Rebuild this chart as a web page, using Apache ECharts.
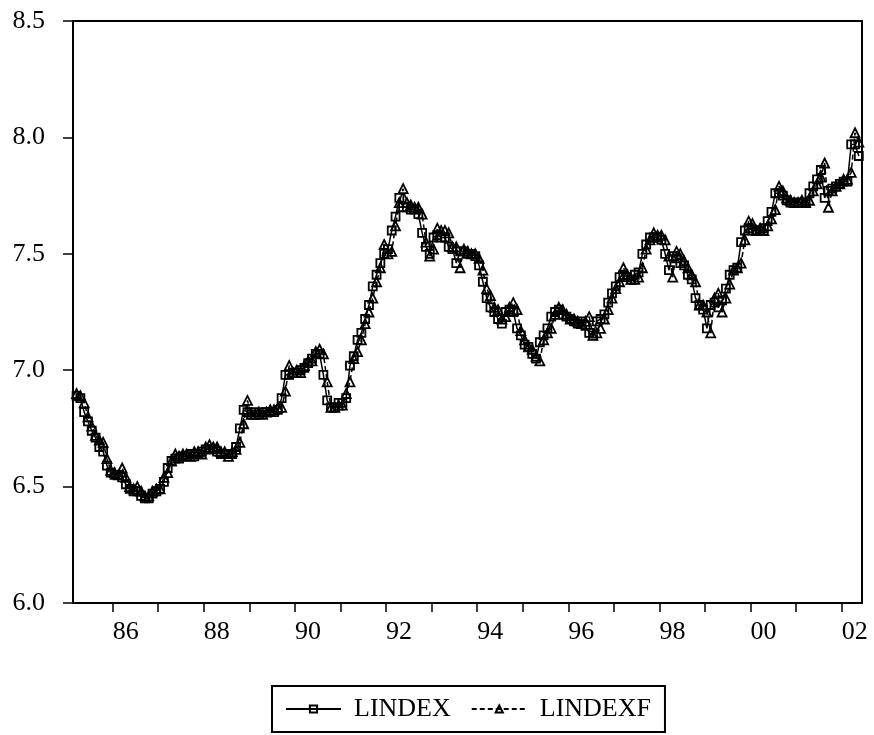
<!DOCTYPE html>
<html>
<head>
<meta charset="utf-8">
<title>LINDEX vs LINDEXF</title>
<script src="https://cdn.jsdelivr.net/npm/echarts@6/dist/echarts.min.js"></script>
<style>
  html, body { margin: 0; padding: 0; background: #fff; }
  #main { width: 874px; height: 735px; }
</style>
</head>
<body>
<div id="main"></div>
<script type="text/javascript">
// monthly observations, 1985M03 .. 2002M05
var startYear = 1985, startMonth = 3;

var lindex = [
  6.89, 6.88, 6.82, 6.78, 6.74, 6.71, 6.67, 6.65, 6.59, 6.56,
  6.55, 6.55, 6.54, 6.51, 6.49, 6.48, 6.48, 6.46, 6.45, 6.45, 6.47, 6.48,
  6.49, 6.52, 6.58, 6.61, 6.62, 6.62, 6.63, 6.63, 6.64, 6.63, 6.64, 6.65,
  6.66, 6.66, 6.66, 6.65, 6.64, 6.64, 6.64, 6.64, 6.67, 6.75, 6.83, 6.82,
  6.81, 6.82, 6.81, 6.82, 6.82, 6.82, 6.82, 6.83, 6.88, 6.98, 6.98, 6.99,
  6.99, 7.00, 7.01, 7.03, 7.05, 7.07, 7.07, 6.98, 6.87, 6.84, 6.84, 6.86,
  6.86, 6.88, 7.02, 7.06, 7.13, 7.16, 7.22, 7.28, 7.36, 7.41, 7.46, 7.50,
  7.52, 7.60, 7.66, 7.74, 7.70, 7.70, 7.69, 7.69, 7.67, 7.59, 7.53, 7.50,
  7.57, 7.58, 7.57, 7.57, 7.53, 7.52, 7.46, 7.51, 7.51, 7.50, 7.50, 7.49,
  7.45, 7.38, 7.31, 7.27, 7.25, 7.22, 7.20, 7.25, 7.26, 7.25, 7.18, 7.15,
  7.11, 7.10, 7.07, 7.05, 7.12, 7.15, 7.18, 7.23, 7.25, 7.26, 7.24, 7.23,
  7.22, 7.21, 7.20, 7.21, 7.19, 7.16, 7.15, 7.21, 7.22, 7.24, 7.29, 7.33,
  7.36, 7.40, 7.41, 7.40, 7.39, 7.41, 7.42, 7.50, 7.54, 7.57, 7.57, 7.57,
  7.56, 7.50, 7.43, 7.49, 7.48, 7.46, 7.45, 7.41, 7.39, 7.31, 7.28, 7.26,
  7.18, 7.28, 7.29, 7.27, 7.30, 7.35, 7.41, 7.43, 7.44, 7.55, 7.60, 7.61,
  7.60, 7.60, 7.60, 7.61, 7.64, 7.68, 7.76, 7.76, 7.75, 7.73, 7.72, 7.72,
  7.72, 7.72, 7.72, 7.76, 7.79, 7.82, 7.86, 7.74, 7.77, 7.78, 7.79, 7.80,
  7.81, 7.81, 7.97, 7.97, 7.92
];

var lindexf = [
  6.90, 6.89, 6.86, 6.80, 6.76, 6.72, 6.70, 6.69, 6.62, 6.57,
  6.56, 6.55, 6.58, 6.54, 6.50, 6.49, 6.50, 6.48, 6.46, 6.46, 6.48, 6.49,
  6.49, 6.54, 6.56, 6.61, 6.64, 6.63, 6.64, 6.64, 6.63, 6.65, 6.65, 6.64,
  6.67, 6.68, 6.67, 6.67, 6.65, 6.65, 6.63, 6.65, 6.66, 6.69, 6.77, 6.87,
  6.81, 6.81, 6.82, 6.81, 6.82, 6.83, 6.83, 6.84, 6.84, 6.91, 7.02, 6.99,
  7.00, 6.99, 7.02, 7.04, 7.04, 7.08, 7.09, 7.07, 6.95, 6.84, 6.84, 6.85,
  6.85, 6.90, 6.95, 7.05, 7.08, 7.13, 7.20, 7.25, 7.31, 7.38, 7.44, 7.54,
  7.50, 7.51, 7.62, 7.72, 7.78, 7.72, 7.71, 7.70, 7.70, 7.67, 7.55, 7.49,
  7.52, 7.61, 7.60, 7.60, 7.59, 7.53, 7.53, 7.44, 7.52, 7.51, 7.50, 7.50,
  7.48, 7.43, 7.35, 7.32, 7.27, 7.26, 7.22, 7.23, 7.27, 7.29, 7.26, 7.17,
  7.13, 7.10, 7.09, 7.06, 7.04, 7.13, 7.16, 7.18, 7.24, 7.27, 7.26, 7.24,
  7.22, 7.22, 7.21, 7.20, 7.21, 7.23, 7.15, 7.16, 7.18, 7.22, 7.26, 7.31,
  7.35, 7.38, 7.44, 7.41, 7.39, 7.39, 7.40, 7.44, 7.52, 7.56, 7.59, 7.58,
  7.58, 7.56, 7.49, 7.40, 7.51, 7.50, 7.47, 7.44, 7.41, 7.38, 7.28, 7.28,
  7.25, 7.16, 7.31, 7.33, 7.25, 7.31, 7.37, 7.43, 7.44, 7.46, 7.56, 7.64,
  7.63, 7.60, 7.61, 7.60, 7.62, 7.65, 7.69, 7.79, 7.77, 7.74, 7.73, 7.72,
  7.72, 7.73, 7.72, 7.73, 7.77, 7.80, 7.83, 7.89, 7.70, 7.77, 7.79, 7.80,
  7.82, 7.82, 7.85, 8.02, 7.98
];

var yearTicks = [1986, 1987, 1988, 1989, 1990, 1991, 1992, 1993, 1994,
                 1995, 1996, 1997, 1998, 1999, 2000, 2001, 2002];
var yearLabels = [1986, 1988, 1990, 1992, 1994, 1996, 1998, 2000, 2002];

// each observation sits in the middle of its month on a decimal-year axis
function toPairs(values) {
    return values.map(function (v, i) {
        var k = startMonth - 1 + i;
        return [startYear + (k + 0.5) / 12, v];
    });
}

var font = '"Liberation Serif", "Times New Roman", serif';

var myChart = echarts.init(document.getElementById('main'));
var option = {
    animation: false,
    backgroundColor: '#fff',
    grid: {
        left: 73, top: 21, right: 12, bottom: 132,
        show: true, borderColor: '#000', borderWidth: 2
    },
    legend: {
        left: 272, top: 686,
        itemWidth: 55, itemHeight: 9, itemGap: 20,
        borderColor: '#000', borderWidth: 2,
        padding: [10, 14, 10, 13],
        textStyle: { fontFamily: font, fontSize: 26, color: '#000', padding: [0, 0, 0, 8] },
        data: ['LINDEX', 'LINDEXF']
    },
    xAxis: {
        type: 'value',
        min: 1985.13, max: 2002.445,
        axisLine: { show: true, onZero: false, lineStyle: { color: '#000', width: 2 } },
        axisTick: { show: true, customValues: yearTicks, length: 9, lineStyle: { color: '#000', width: 1.5 } },
        axisLabel: {
            customValues: yearLabels,
            align: 'left',
            margin: 16,
            fontFamily: font, fontSize: 26, color: '#000',
            formatter: function (v) { return String(Math.round(v)).substr(2, 2); }
        },
        splitLine: { show: false }
    },
    yAxis: {
        type: 'value',
        min: 6.0, max: 8.5, interval: 0.5,
        axisLine: { show: true, lineStyle: { color: '#000', width: 2 } },
        axisTick: { show: true, length: 10, lineStyle: { color: '#000', width: 1.5 } },
        axisLabel: {
            margin: 28,
            fontFamily: font, fontSize: 26, color: '#000',
            formatter: function (v) { return v.toFixed(1); }
        },
        splitLine: { show: false }
    },
    series: [
        {
            name: 'LINDEX',
            type: 'line',
            data: toPairs(lindex),
            symbol: 'rect',
            symbolSize: 8,
            showAllSymbol: true,
            lineStyle: { color: '#000', width: 1.5 },
            itemStyle: { color: 'rgba(255,255,255,0)', borderColor: '#000', borderWidth: 1.8 }
        },
        {
            name: 'LINDEXF',
            type: 'line',
            data: toPairs(lindexf),
            symbol: 'triangle',
            symbolSize: 9,
            showAllSymbol: true,
            lineStyle: { color: '#000', width: 1.5, type: [5, 3] },
            itemStyle: { color: 'rgba(255,255,255,0)', borderColor: '#000', borderWidth: 1.8 }
        }
    ]
};
myChart.setOption(option);
</script>
</body>
</html>
